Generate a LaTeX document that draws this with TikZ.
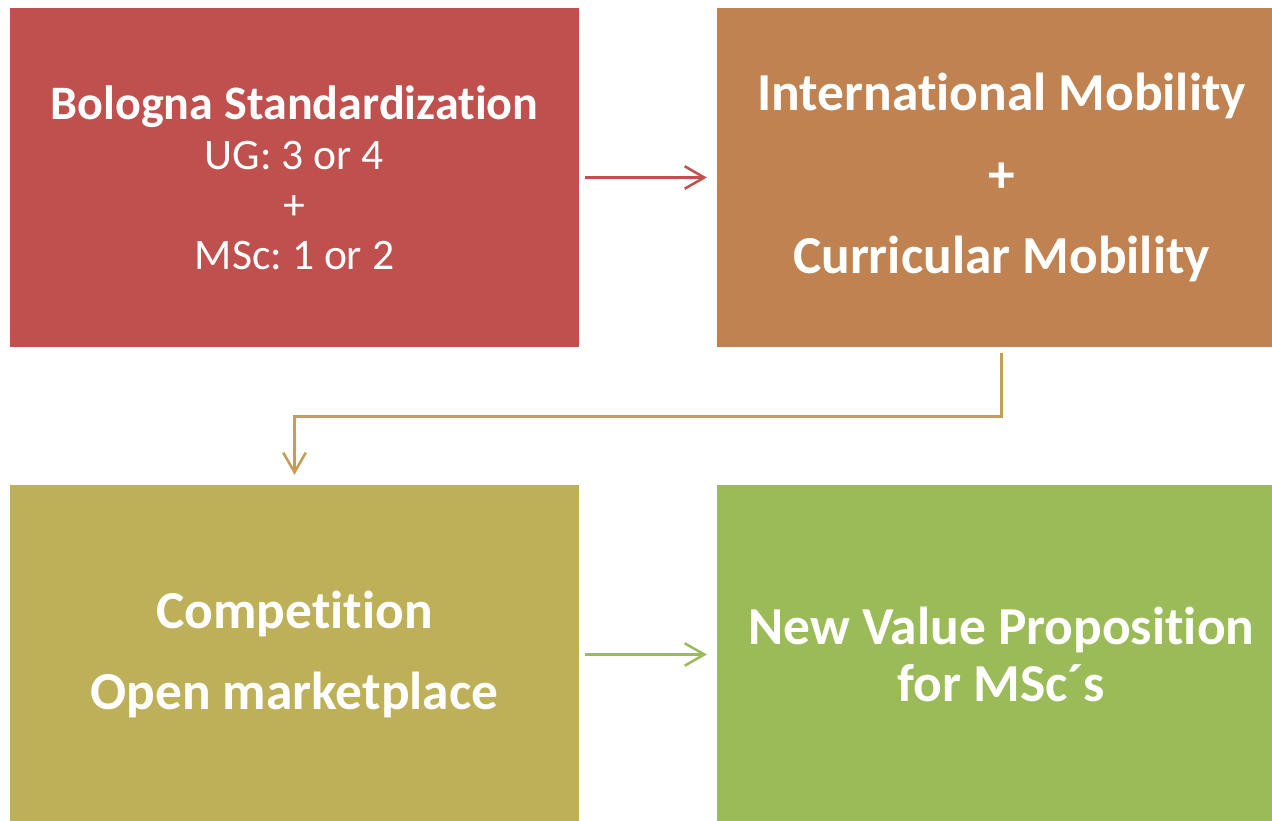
\documentclass[tikz,border=0pt]{standalone}
\usepackage{fontspec}
\setmainfont{Carlito}[Ligatures=NoCommon]
\usepackage{tikz}
\usetikzlibrary{arrows.meta}
\frenchspacing

\definecolor{boxred}{RGB}{192,80,77}
\definecolor{boxorange}{RGB}{192,130,80}
\definecolor{boxolive}{RGB}{190,176,88}
\definecolor{boxgreen}{RGB}{155,187,89}
\definecolor{linkgold}{RGB}{196,158,84}

\tikzset{
  block/.style={minimum width=14.225cm, minimum height=8.475cm, inner sep=0pt, text=white, align=center},
  link/.style={line width=1.8pt, -{Straight Barb[length=14pt,width=16pt]}, shorten <=4.3pt, shorten >=7pt}
}

\begin{document}
\begin{tikzpicture}
\useasboundingbox (0,0) rectangle (31.8,-20.525);
\coordinate (P) at (7.3625,-4.4375);
\coordinate (Q) at (25.0375,-4.4375);
\coordinate (R) at (7.3625,-16.3625);
\coordinate (S) at (25.0375,-16.3625);
\node[block,fill=boxred,font=\fontsize{31}{35.5}\selectfont] (bologna) at (P) {{\fontsize{34.2}{35.5}\selectfont\bfseries Bologna Standardization}\\UG: 3 or 4\\+\\MSc: 1 or 2};
\node[block,fill=boxorange,font=\fontsize{38}{58}\selectfont\bfseries] (mobility) at (Q) {International Mobility\\+\\Curricular Mobility};
\node[block,fill=boxolive,font=\fontsize{38}{58}\selectfont\bfseries] (market) at (R) {Competition\\Open marketplace};
\node[block,fill=boxgreen,font=\fontsize{38}{41}\selectfont\bfseries] (value) at (S) {New Value Proposition\\for MSc´s};
\draw[link,boxred] (bologna) -- (mobility);
\draw[link,linkgold] (mobility.south) -- ++(0,-1.725) -| (market.north);
\draw[link,boxgreen] (market) -- (value);
\end{tikzpicture}
\end{document}
